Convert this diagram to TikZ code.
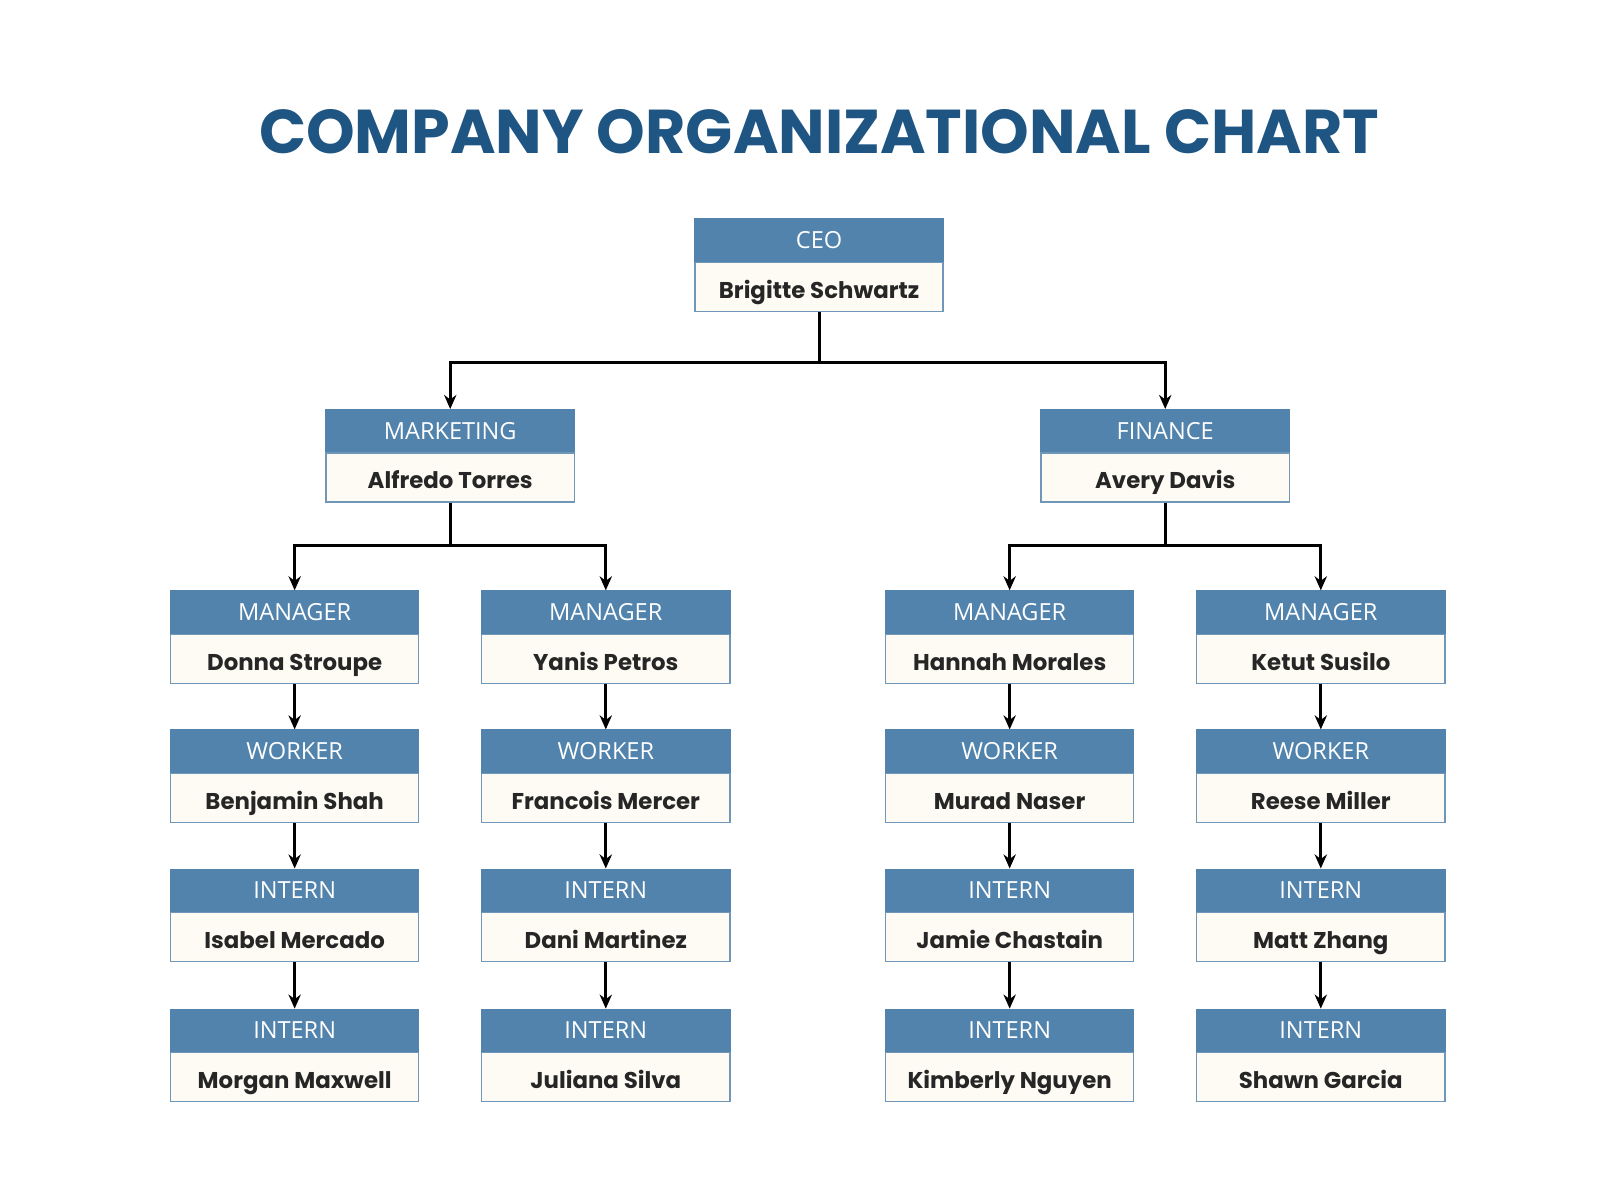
\documentclass[tikz,border=0pt]{standalone}
\usepackage{fontspec}
\setmainfont{Open Sans}
\newfontfamily\namefont{Poppins}
\usetikzlibrary{arrows.meta, positioning}
\definecolor{headblue}{HTML}{5183AC}
\definecolor{bodycream}{HTML}{FDFBF3}
\definecolor{edgeblue}{HTML}{7097B8}
\definecolor{titleblue}{HTML}{1F5582}

% Boxes: name, x, top y, role, person
\newcommand{\orgbox}[5]{%
  \node[head] (#1h) at (#2,#3) {#4};
  \node[body, below=0pt of #1h] (#1) {#5};
}

\begin{document}
\begin{tikzpicture}[
    x=0.0103cm, y=-0.0103cm,
    % Node styles
    head/.style={rectangle, draw=headblue, fill=headblue, minimum width=2.48cm, minimum height=0.42cm, inner sep=0pt, text=white, font=\fontsize{6.7}{8}\selectfont, anchor=north},
    body/.style={rectangle, draw=edgeblue, fill=bodycream, minimum width=2.48cm, minimum height=0.49cm, inner sep=0pt, text height=1.6ex, text depth=0.4ex, text=black!85, font=\namefont\bfseries\fontsize{6.5}{8}\selectfont, anchor=north},
    link/.style={-{Stealth[length=4pt, width=3.5pt]}, line width=0.85pt, black},
]

% Canvas
\useasboundingbox (0,0) rectangle (1553,1165);

% Title
\node[font=\namefont\bfseries\fontsize{17.6}{21}\selectfont, text=titleblue] (title) at (795,128) {COMPANY ORGANIZATIONAL CHART};

\orgbox{ceo}{795}{212}{CEO}{Brigitte Schwartz}
\orgbox{mkt}{437}{397}{MARKETING}{Alfredo Torres}
\orgbox{fin}{1131}{397}{FINANCE}{Avery Davis}

\orgbox{ma}{286}{573}{MANAGER}{Donna Stroupe}
\orgbox{mb}{588}{573}{MANAGER}{Yanis Petros}
\orgbox{mc}{980}{573}{MANAGER}{Hannah Morales}
\orgbox{md}{1282}{573}{MANAGER}{Ketut Susilo}

\orgbox{wa}{286}{708}{WORKER}{Benjamin Shah}
\orgbox{wb}{588}{708}{WORKER}{Francois Mercer}
\orgbox{wc}{980}{708}{WORKER}{Murad Naser}
\orgbox{wd}{1282}{708}{WORKER}{Reese Miller}

\orgbox{ia}{286}{843}{INTERN}{Isabel Mercado}
\orgbox{ib}{588}{843}{INTERN}{Dani Martinez}
\orgbox{ic}{980}{843}{INTERN}{Jamie Chastain}
\orgbox{id}{1282}{843}{INTERN}{Matt Zhang}

\orgbox{ja}{286}{979}{INTERN}{Morgan Maxwell}
\orgbox{jb}{588}{979}{INTERN}{Juliana Silva}
\orgbox{jc}{980}{979}{INTERN}{Kimberly Nguyen}
\orgbox{jd}{1282}{979}{INTERN}{Shawn Garcia}

% Branches
\draw[link] (ceo.south) -- ++(0,49) -| (mkth.north);
\draw[link] (ceo.south) -- ++(0,49) -| (finh.north);
\draw[link] (mkt.south) -- ++(0,41) -| (mah.north);
\draw[link] (mkt.south) -- ++(0,41) -| (mbh.north);
\draw[link] (fin.south) -- ++(0,41) -| (mch.north);
\draw[link] (fin.south) -- ++(0,41) -| (mdh.north);

% Chains
\foreach \c in {a,b,c,d} {
  \draw[link] (m\c.south) -- (w\c h.north);
  \draw[link] (w\c.south) -- (i\c h.north);
  \draw[link] (i\c.south) -- (j\c h.north);
}

\end{tikzpicture}
\end{document}
